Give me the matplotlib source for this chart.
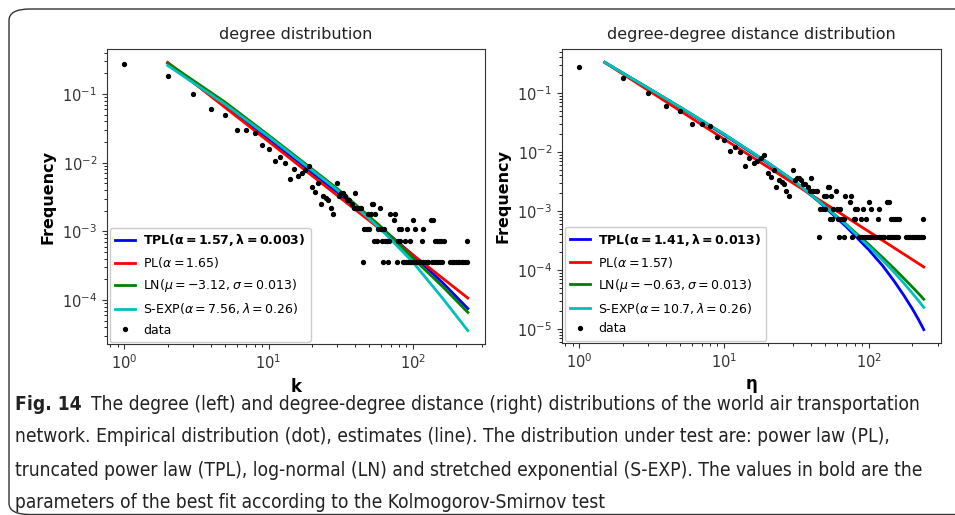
import matplotlib
matplotlib.use("Agg")
import matplotlib.pyplot as plt
from matplotlib.patches import FancyBboxPatch
from matplotlib import font_manager
from matplotlib.font_manager import FontProperties

# ---------------- data ----------------
# empirical distribution (same for both panels)
data_k = [1, 2, 3, 4, 5, 6, 7, 8, 9, 10, 11, 12, 13, 14, 15, 16, 17, 18, 19, 20,
          21, 22, 23, 24, 25, 26, 27, 28, 30, 31, 32, 33, 34, 35, 36, 38, 39, 40,
          41, 43, 44, 45, 46, 48, 49, 50, 51, 52, 53, 54, 55, 56, 57, 59, 60,
          61, 62, 63, 64, 66, 67, 68, 69, 74, 75, 77, 79, 80, 81, 83, 86, 87,
          88, 90, 91, 93, 95, 96, 99, 100, 102, 104, 107, 110, 112, 115, 117,
          118, 121, 125, 128, 133, 136, 138, 140, 143, 145, 147, 150, 152, 155,
          157, 160, 163, 181, 186, 192, 198, 204, 210, 217, 224, 230, 236, 237]
data_freq = [0.27, 0.18, 0.10, 0.060, 0.049, 0.030, 0.030, 0.027, 0.018, 0.0156,
             0.0104, 0.0122, 0.0099, 0.0058, 0.0080, 0.0065, 0.0070, 0.0078, 0.0089, 0.0044,
             0.0037, 0.0050, 0.0025, 0.0033, 0.0031, 0.0029, 0.0022, 0.0018, 0.0050, 0.0033,
             0.0036, 0.0036, 0.0033, 0.0029, 0.0029, 0.0025, 0.00217, 0.0036,
             0.00217, 0.00217, 0.00217, 0.00036, 0.00108, 0.00108, 0.0018, 0.00108, 0.0018,
             0.0025, 0.0025, 0.00072, 0.0018, 0.00072, 0.00108, 0.00217, 0.00108,
             0.00072, 0.00036, 0.00108, 0.00072, 0.00072, 0.00036, 0.00072, 0.0018,
             0.00144, 0.0018, 0.00036, 0.00072, 0.00108, 0.00072, 0.00108, 0.00036, 0.00036,
             0.00072, 0.00036, 0.00108, 0.00036, 0.00072, 0.00036, 0.00036, 0.00144,
             0.00036, 0.00108, 0.00036, 0.00036, 0.00036, 0.00072, 0.00108,
             0.00036, 0.00036, 0.00036, 0.00036, 0.00144, 0.00036, 0.00144, 0.00036,
             0.00072, 0.00036, 0.00072, 0.00036, 0.00072, 0.00036,
             0.00072, 0.00036, 0.00072, 0.00036, 0.00036, 0.00036, 0.00036, 0.00036,
             0.00036, 0.00036, 0.00036, 0.00036, 0.00072, 0.00036]

# fitted curves, left panel (degree k)
left_tpl_x = [2, 5, 10, 30, 60, 100, 160, 240]
left_tpl_y = [0.282, 0.0662, 0.0220, 0.00369, 0.00114, 0.000452, 0.000180, 0.0000752]
left_pl_x = [2, 10, 100, 240]
left_pl_y = [0.288, 0.0203, 0.000454, 0.000107]
left_ln_x = [2, 5, 10, 30, 60, 100, 160, 240]
left_ln_y = [0.282, 0.0759, 0.0251, 0.00417, 0.00117, 0.000407, 0.000158, 0.0000661]
left_sexp_x = [2, 5, 10, 30, 60, 100, 160, 240]
left_sexp_y = [0.260, 0.0708, 0.0240, 0.00398, 0.00107, 0.000355, 0.000107, 0.0000359]

# fitted curves, right panel (degree-degree distance eta)
right_x = [1.5, 3, 5, 10, 20, 30, 45, 70, 100, 125, 150, 175, 200, 220, 240]
right_tpl_y = [0.329, 0.120, 0.0562, 0.0195, 0.00646, 0.00324, 0.00145, 0.000537,
               0.000219, 0.000117, 0.0000641, 0.0000368, 0.0000219, 0.0000146, 0.0000097]
right_pl_x = [1.5, 10, 100, 240]
right_pl_y = [0.329, 0.0165, 0.000447, 0.000112]
right_ln_y = [0.329, 0.120, 0.0569, 0.0200, 0.00661, 0.00331, 0.00148, 0.000589,
              0.000269, 0.000161, 0.000105, 0.0000716, 0.0000512, 0.0000401, 0.0000318]
right_sexp_y = [0.329, 0.120, 0.0569, 0.0200, 0.00661, 0.00331, 0.00148, 0.000575,
                0.000251, 0.000145, 0.0000906, 0.0000593, 0.0000403, 0.0000303, 0.0000231]

left_labels = [r'$\bf{TPL(\alpha=1.57, \lambda=0.003)}$',
               r'PL($\alpha=1.65$)',
               r'LN($\mu=-3.12, \sigma=0.013$)',
               r'S-EXP($\alpha=7.56, \lambda=0.26$)',
               'data']
right_labels = [r'$\bf{TPL(\alpha=1.41, \lambda=0.013)}$',
                r'PL($\alpha=1.57$)',
                r'LN($\mu=-0.63, \sigma=0.013$)',
                r'S-EXP($\alpha=10.7, \lambda=0.26$)',
                'data']
titles = ['degree distribution', 'degree-degree distance distribution']
xlabels = ['k', r'$\mathbf{\eta}$']

caption_bold = 'Fig. 14'
caption_lines = [
    'The degree (left) and degree-degree distance (right) distributions of the world air transportation',
    'network. Empirical distribution (dot), estimates (line). The distribution under test are: power law (PL),',
    'truncated power law (TPL), log-normal (LN) and stretched exponential (S-EXP). The values in bold are the',
    'parameters of the best fit according to the Kolmogorov-Smirnov test',
]

# ---------------- figure ----------------
W, H = 955, 515
fig = plt.figure(figsize=(W / 100, H / 100), dpi=100)

# outer frame with rounded corners
frame = FancyBboxPatch((9 / W, 1 - 514.5 / H), 1.2, (514.5 - 9) / H,
                       boxstyle="round,pad=0,rounding_size=0.022",
                       transform=fig.transFigure, fill=False,
                       edgecolor='#333333', linewidth=1.0, clip_on=False)
fig.patches.append(frame)

ax_l = fig.add_axes([107 / W, 1 - 344 / H, 378 / W, 295 / H])
ax_r = fig.add_axes([562 / W, 1 - 343 / H, 379 / W, 294 / H])

panels = [
    (ax_l, [(left_tpl_x, left_tpl_y), (left_pl_x, left_pl_y),
            (left_ln_x, left_ln_y), (left_sexp_x, left_sexp_y)], left_labels),
    (ax_r, [(right_x, right_tpl_y), (right_pl_x, right_pl_y),
            (right_x, right_ln_y), (right_x, right_sexp_y)], right_labels),
]
colors = ['#0000ff', '#ff0000', '#008000', '#00bfbf']

for i, (ax, curves, labels) in enumerate(panels):
    for (cx, cy), c, lab in zip(curves, colors, labels[:4]):
        ax.plot(cx, cy, color=c, lw=2.0, label=lab)
    ax.plot(data_k, data_freq, 'o', color='black', markersize=2.8, label=labels[4])
    ax.set_xscale('log')
    ax.set_yscale('log')
    ax.set_title(titles[i], fontsize=11.5, color='#222222', pad=7)
    ax.set_xlabel(xlabels[i], fontsize=12, fontweight='bold')
    ax.set_ylabel('Frequency', fontsize=11.5, fontweight='bold', labelpad=5)
    ax.tick_params(labelsize=10.5, colors='#333333')
    for s in ax.spines.values():
        s.set_edgecolor('#333333')
    leg = ax.legend(loc='lower left', fontsize=9, handlelength=1.6,
                    handletextpad=0.7, labelspacing=0.56,
                    borderaxespad=0.2, framealpha=1.0)

# caption font: prefer a narrow / condensed sans if one is installed
cap_reg = None
cap_bold = None
for f in font_manager.fontManager.ttflist:
    nm = (f.name + ' ' + str(f.fname)).lower()
    narrow = ('narrow' in nm or 'condensed' in nm or
              str(f.stretch) in ('condensed', 'semi-condensed', 'extra-condensed'))
    if narrow and 'serif' not in f.name.lower() and 'mono' not in f.name.lower() \
            and f.style == 'normal':
        w = f.weight if isinstance(f.weight, int) else (700 if 'bold' in str(f.weight) else 400)
        if w >= 600 and cap_bold is None:
            cap_bold = f.fname
        elif w < 600 and cap_reg is None:
            cap_reg = f.fname
if cap_reg is not None:
    fp_reg = FontProperties(fname=cap_reg)
    fp_bold = FontProperties(fname=cap_bold) if cap_bold else FontProperties(fname=cap_reg, weight='bold')
else:
    fp_reg = FontProperties(family='Liberation Sans')
    fp_bold = FontProperties(family='Liberation Sans', weight='bold')

y_lines = [405, 437, 470, 502]
fs = 13.0
tb = fig.text(15 / W, 1 - y_lines[0] / H, caption_bold, fontproperties=fp_bold,
              va='center', ha='left', color='#222222')
t1 = fig.text(76 / W, 1 - y_lines[0] / H, caption_lines[0], fontproperties=fp_reg,
              va='center', ha='left', color='#222222')
others = []
for yy, line in zip(y_lines[1:], caption_lines[1:]):
    others.append(fig.text(15 / W, 1 - yy / H, line, fontproperties=fp_reg,
                           va='center', ha='left', color='#222222'))
for t in [tb, t1] + others:
    t.set_fontsize(fs)

renderer = fig.canvas.get_renderer()
wb = tb.get_window_extent(renderer).width
w1 = t1.get_window_extent(renderer).width
w3 = others[1].get_window_extent(renderer).width
scale = min(920.0 / (wb + 9 + w1), 906.0 / w3)
new_fs = fs * scale
for t in [tb, t1] + others:
    t.set_fontsize(new_fs)
wb = tb.get_window_extent(renderer).width
t1.set_x((15 + wb + 9) / W)

fig.savefig('out.png', dpi=100)
